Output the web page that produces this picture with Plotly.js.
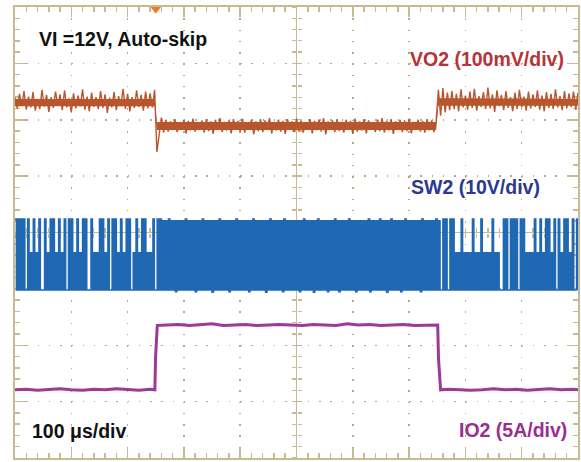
<!DOCTYPE html>
<html>
<head>
<meta charset="utf-8">
<script src="https://cdn.plot.ly/plotly-3.0.1.min.js"></script>
<style>html,body{margin:0;padding:0;background:#fff;}#chart{width:581px;height:462px;}</style>
</head>
<body>
<div id="chart"></div>
<script>
// ---- Channel settings (scope) ----
// time axis: 100 us/div, 10 divisions; vertical: 8 divisions
const timeRange = [-500, 500];           // us
const triggerTime = [-250];              // us (trigger marker)

// VO2: AC ripple in mV, 100 mV/div, sampled every 4 us from -500 us
const vo2ScaleMvPerDiv = 100, vo2OffsetDiv = 2.31;
const vo2Start = -500, vo2Step = 4;
const vo2mV = [
  8,-11,15,-7,20,-13,10,-9,18,-15,
  6,-12,22,-8,13,-17,9,-10,19,-6,
  14,-14,21,-9,7,-18,16,-11,12,-7,
  23,-13,10,-16,17,-8,9,-12,20,-10,
  14,-19,8,-9,18,-14,11,-7,24,-12,
  15,-16,9,-10,21,-8,13,-15,19,-11,
  16,-9,22,
  -88,
  -58,-27,-54,-31,-52,-34,-49,-30,-53,-36,
  -48,-31,-55,-33,-50,-29,-52,-35,-47,-32,
  -54,-30,-51,-34,-56,-31,-49,-28,-53,-35,
  -50,-32,-55,-30,-48,-33,-52,-29,-54,-36,
  -49,-31,-57,-34,-51,-30,-53,-32,-48,-28,
  -55,-35,-50,-31,-52,-33,-56,-30,-49,-34,
  -53,-29,-51,-32,-54,-36,-48,-30,-55,-33,
  -50,-31,-52,-28,-57,-34,-49,-32,-53,-30,
  -51,-35,-54,-31,-48,-33,-56,-29,-52,-34,
  -50,-30,-55,-32,-49,-36,-53,-31,-51,-28,
  -54,-33,-50,-30,-56,-34,-48,-31,-53,-32,
  -51,-29,-55,-35,-49,-31,-52,-33,-54,-30,
  -50,-32,-53,-34,
  22,-24,25,-18,17,-14,20,-12,15,-16,
  23,-9,12,-13,19,-10,24,-15,11,-8,
  18,-12,26,-11,14,-17,21,-7,13,-14,
  20,-10,9,-16,17,-12,22,-9,10,-15,
  19,-11,14,-8,21,-13,12,-16,18,-10,
  15,-12,23,-9,11,-14,20,-11,16,-8,
  19,-13,17
];
// VO2 dense core of the ripple band (mV)
const vo2CoreTime = [-500, -252, -248, 248, 252, 500];
const vo2CoreHi   = [   6,    6,  -35, -35,   7,   6];
const vo2CoreLo   = [  -7,   -7,  -49, -49,  -6,  -6];

// SW2: switch node in V, 10 V/div, sampled every 2.5 us from -500 us
const sw2ScaleVPerDiv = 10, sw2OffsetDiv = -1.02;
const sw2Start = -500, sw2Step = 2.5;
const sw2V = [
  // light load (auto-skip)
  12.6,0,12.6,0,12.6,0,12.6,0,0,12.6,0,6.6,0,12.6,0,
  6.6,0,12.6,0,0,0,12.6,0,6.6,0,12.6,0,12.6,0,6.6,
  0,12.6,0,6.6,0,12.6,0,0,12.6,0,12.6,0,6.6,0,12.6,
  0,6.6,0,12.6,0,12.6,0,0,0,12.6,0,6.6,0,6.6,0,
  12.6,0,12.6,0,6.6,0,12.6,0,0,12.6,0,12.6,0,6.6,0,
  12.6,0,6.6,0,12.6,0,12.6,0,0,6.6,0,12.6,0,6.6,0,
  12.6,0,12.6,0,6.6,0,6.6,0,12.6,0,0,12.6,0,12.6,0,
  // heavy load (continuous switching)
  12.3,0,12.3,0,12.6,0,12.3,0,12.3,-0.3,12.3,0,12.3,0,12.3,0,12.6,0,12.3,0,
  12.3,0,12.3,-0.3,12.3,0,12.3,0,12.6,0,12.3,0,12.3,0,12.3,-0.4,12.3,0,12.3,0,
  12.6,0,12.3,0,12.3,0,12.3,-0.3,12.3,0,12.3,0,12.6,0,12.3,0,12.3,0,12.3,0,
  12.3,-0.3,12.3,0,12.6,0,12.3,0,12.3,0,12.3,0,12.3,-0.4,12.3,0,12.6,0,12.3,0,
  12.3,0,12.3,0,12.3,-0.3,12.6,0,12.3,0,12.3,0,12.3,0,12.3,0,12.3,-0.3,12.3,0,
  12.6,0,12.3,0,12.3,0,12.3,-0.4,12.3,0,12.6,0,12.3,0,12.3,0,12.3,-0.3,12.3,0,
  12.3,0,12.6,0,12.3,-0.3,12.3,0,12.3,0,12.3,0,12.6,0,12.3,0,12.3,-0.3,12.3,0,
  12.3,0,12.3,0,12.3,0,12.6,-0.3,12.3,0,12.3,0,12.3,0,12.6,0,12.3,0,12.3,-0.4,
  12.3,0,12.6,0,12.3,0,12.3,0,12.3,-0.3,12.3,0,12.6,0,12.3,0,12.3,0,12.3,0,
  12.3,0,12.3,-0.3,12.6,0,12.3,0,12.3,0,12.3,0,12.3,0,12.6,0,12.3,
  // light load again
  0,0,12.6,0,12.6,0,0,12.6,0,12.6,0,
  6.6,0,6.6,0,12.6,0,6.6,0,6.6,0,6.6,0,12.6,0,6.6,0,6.6,0,12.6,0,6.6,0,6.6,0,6.6,0,12.6,0,6.6,0,6.6,0,
  0,0,
  12.6,0,12.6,0,0,12.6,0,12.6,0,12.6,0,0,12.6,0,12.6,
  0,6.6,0,6.6,0,6.6,0,12.6,0,6.6,
  0,12.6,0,6.6,0,12.6,0,12.6,0,6.6,0,12.6,0,0,12.6,0,6.6,0,12.6,0,12.6,0,6.6,0,12.6,0,0,12.6,0
];

// IO2: load current in A, 5 A/div
const io2ScaleAPerDiv = 5, io2OffsetDiv = -2.89;
const io2Time = [
  -500,-480,-460,-440,-420,-400,-380,-360,-340,-320,-300,-280,-260,
  -251.6,-250.3,-247.3,
  -230,-210,-190,-170,-150,-130,-110,-90,-70,-50,-30,-10,10,30,50,70,90,110,130,150,170,190,210,230,
  250.8,252.3,256,
  270,290,310,330,350,370,390,410,430,450,470,490,500
];
const io2A = [
  0.5,0.55,0.45,0.5,0.6,0.5,0.45,0.55,0.5,0.6,0.5,0.45,0.55,
  0.5,3.4,6.2,
  6.25,6.3,6.2,6.25,6.35,6.2,6.25,6.3,6.2,6.25,6.3,6.25,6.2,6.3,6.25,6.2,6.35,6.25,6.3,6.2,6.25,6.3,6.2,6.25,
  6.25,3.2,0.5,
  0.55,0.5,0.45,0.5,0.6,0.5,0.55,0.45,0.5,0.6,0.5,0.55,
  0.5
];

// ---- styles ----
const GRID = '#c9ba91';
const DOTS = '#b7a983';
const FONT = 'Liberation Sans, Arial, Helvetica, sans-serif';
const VO2C = '#b8562d';

const toDiv = (arr, scale, off) => arr.map(v => off + v / scale);

const traces = [
  {
    type: 'scatter', mode: 'lines', name: 'SW2',
    x0: sw2Start, dx: sw2Step, y: toDiv(sw2V, sw2ScaleVPerDiv, sw2OffsetDiv),
    line: {color: '#1f68b3', width: 1.5, shape: 'hv'}, hoverinfo: 'skip'
  },
  {
    type: 'scatter', mode: 'lines', name: 'VO2 core low',
    x: vo2CoreTime, y: toDiv(vo2CoreLo, vo2ScaleMvPerDiv, vo2OffsetDiv),
    line: {color: VO2C, width: 0}, hoverinfo: 'skip'
  },
  {
    type: 'scatter', mode: 'lines', name: 'VO2 core high',
    x: vo2CoreTime, y: toDiv(vo2CoreHi, vo2ScaleMvPerDiv, vo2OffsetDiv),
    line: {color: VO2C, width: 0}, fill: 'tonexty', fillcolor: VO2C, hoverinfo: 'skip'
  },
  {
    type: 'scatter', mode: 'lines', name: 'VO2',
    x0: vo2Start, dx: vo2Step, y: toDiv(vo2mV, vo2ScaleMvPerDiv, vo2OffsetDiv),
    line: {color: VO2C, width: 1.4}, hoverinfo: 'skip'
  },
  {
    type: 'scatter', mode: 'lines', name: 'IO2',
    x: io2Time, y: toDiv(io2A, io2ScaleAPerDiv, io2OffsetDiv),
    line: {color: '#9b3a98', width: 3}, hoverinfo: 'skip'
  },
  {
    type: 'scatter', mode: 'markers', name: 'trigger',
    x: triggerTime, y: [3.96], cliponaxis: false,
    marker: {symbol: 'triangle-down', size: 9, color: '#f47a22'}, hoverinfo: 'skip'
  },
  // empty traces that carry the centre-cross tick axes
  {type: 'scatter', x: [], y: [], xaxis: 'x2', yaxis: 'y', hoverinfo: 'skip'},
  {type: 'scatter', x: [], y: [], xaxis: 'x3', yaxis: 'y', hoverinfo: 'skip'},
  {type: 'scatter', x: [], y: [], xaxis: 'x', yaxis: 'y2', hoverinfo: 'skip'},
  {type: 'scatter', x: [], y: [], xaxis: 'x', yaxis: 'y3', hoverinfo: 'skip'}
];

const centerX = (t) => ({
  overlaying: 'x', anchor: 'free', position: 0.5, range: timeRange,
  tick0: 0, dtick: 100, ticks: t, ticklen: 4.5, tickwidth: 1.3, tickcolor: GRID,
  minor: {ticks: t, ticklen: 4.5, tickwidth: 1.3, tickcolor: GRID, dtick: 20, showgrid: false},
  showgrid: false, zeroline: false, showline: false, showticklabels: false,
  layer: 'below traces', fixedrange: true
});
const centerY = (t) => ({
  overlaying: 'y', anchor: 'free', position: 0.5, side: 'left', range: [-4, 4],
  tick0: 0, dtick: 1, ticks: t, ticklen: 4.5, tickwidth: 1.3, tickcolor: GRID,
  minor: {ticks: t, ticklen: 4.5, tickwidth: 1.3, tickcolor: GRID, dtick: 0.2, showgrid: false},
  showgrid: false, zeroline: false, showline: false, showticklabels: false,
  layer: 'below traces', fixedrange: true
});

const ann = (text, x, y, color) => ({
  text: '<b>' + text + '</b>', xref: 'paper', yref: 'paper', x: x, y: y,
  xanchor: 'left', yanchor: 'middle', showarrow: false,
  font: {family: FONT, size: 19.5, color: color}
});

const layout = {
  width: 581, height: 462,
  margin: {l: 15, r: 3, t: 7, b: 4, pad: 0},
  paper_bgcolor: '#ffffff', plot_bgcolor: '#ffffff',
  showlegend: false,
  xaxis: {
    range: timeRange, tick0: 0, dtick: 100,
    showgrid: true, gridcolor: DOTS, gridwidth: 1.5, griddash: '1.5px,9.775px',
    zeroline: true, zerolinecolor: GRID, zerolinewidth: 1.5,
    showline: true, linecolor: GRID, linewidth: 2, mirror: 'ticks',
    ticks: 'inside', ticklen: 10, tickwidth: 1.5, tickcolor: GRID,
    minor: {ticks: 'inside', ticklen: 5, tickwidth: 1.5, tickcolor: GRID, dtick: 20, showgrid: false},
    showticklabels: false, layer: 'below traces', fixedrange: true
  },
  yaxis: {
    range: [-4, 4], tick0: 0, dtick: 1,
    showgrid: true, gridcolor: DOTS, gridwidth: 1.5, griddash: '1.5px,9.76px',
    zeroline: true, zerolinecolor: GRID, zerolinewidth: 1.5,
    showline: true, linecolor: GRID, linewidth: 2, mirror: 'ticks',
    ticks: 'inside', ticklen: 11, tickwidth: 1.5, tickcolor: GRID,
    minor: {ticks: 'inside', ticklen: 5, tickwidth: 1.5, tickcolor: GRID, dtick: 0.2, showgrid: false},
    showticklabels: false, layer: 'below traces', fixedrange: true
  },
  xaxis2: centerX('outside'),
  xaxis3: centerX('inside'),
  yaxis2: centerY('outside'),
  yaxis3: centerY('inside'),
  annotations: [
    ann('VI =12V, Auto-skip', 0.0391, 0.929, '#111111'),
    ann('VO2 (100mV/div)', 0.698, 0.8847, '#b83236'),
    ann('SW2 (10V/div)', 0.6998, 0.6009, '#2b3990'),
    ann('IO2 (5A/div)', 0.785, 0.0621, '#9a2e8e'),
    ann('100 \u03bcs/div', 0.0266, 0.0588, '#111111')
  ]
};

Plotly.newPlot('chart', traces, layout, {staticPlot: true, displayModeBar: false});
</script>
</body>
</html>
